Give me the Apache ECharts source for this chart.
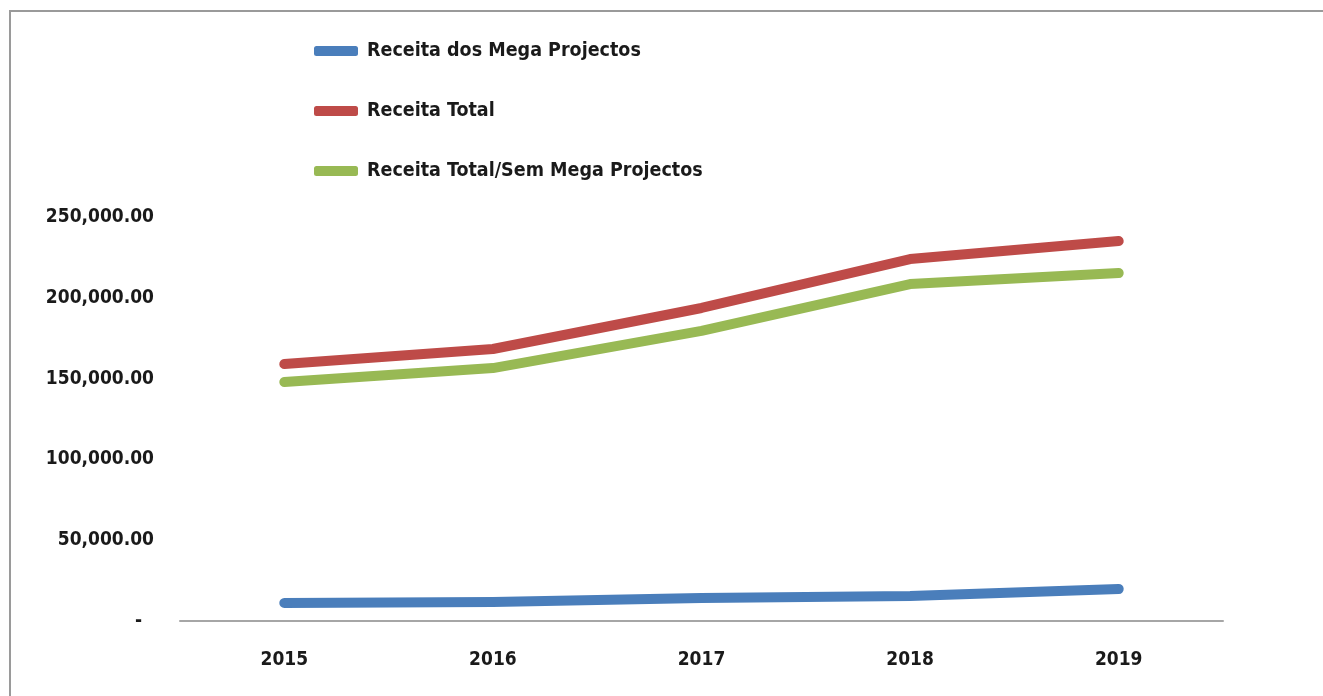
<!DOCTYPE html>
<html>
<head>
<meta charset="utf-8">
<script src="https://cdn.jsdelivr.net/npm/echarts@6/dist/echarts.min.js"></script>
<style>
  html, body { margin: 0; padding: 0; background: #fff; }
  #chart { width: 1323px; height: 696px; }
</style>
</head>
<body>
<div id="chart"></div>
<script>
// anos
const years = ['2015', '2016', '2017', '2018', '2019'];
// valores
const megaProjectos = [11100, 11800, 14200, 15500, 19800];
const receitaTotal = [159000, 168300, 193700, 224000, 235100];
const semMegaProjectos = [147900, 156500, 179500, 208500, 215300];
const seriesNames = ['Receita dos Mega Projectos', 'Receita Total', 'Receita Total/Sem Mega Projectos'];
const colors = ['#4a7ebb', '#be4b48', '#98b954'];

const fontFamily = '"Liberation Sans Narrow", "DejaVu Sans Condensed", "Liberation Sans", sans-serif';

const chart = echarts.init(document.getElementById('chart'));

const makeSeries = (name, data, color) => ({
  name: name,
  type: 'line',
  data: data,
  symbol: 'none',
  smooth: false,
  lineStyle: { width: 10, color: color, cap: 'round', join: 'round' },
  itemStyle: { color: color },
  emphasis: { disabled: true }
});

chart.setOption({
  animation: false,
  color: colors,
  graphic: [{
    type: 'polyline',
    shape: { points: [[10, 696], [10, 11], [1323, 11]] },
    style: { stroke: '#9a9a9a', lineWidth: 2, fill: null }
  }],
  legend: {
    orient: 'vertical',
    left: 309,
    top: 36,
    itemWidth: 44,
    itemHeight: 10,
    itemGap: 40,
    icon: 'roundRect',
    data: seriesNames,
    textStyle: {
      fontFamily: fontFamily,
      fontSize: 19.5,
      fontWeight: 'bold',
      color: '#1a1a1a',
      padding: [0, 0, 0, 4]
    }
  },
  grid: { left: 180, right: 100, top: 217, bottom: 75 },
  xAxis: {
    type: 'category',
    data: years,
    boundaryGap: true,
    axisLine: { lineStyle: { color: '#a6a6a6', width: 2 } },
    axisTick: { show: false },
    axisLabel: {
      margin: 30,
      fontFamily: fontFamily,
      fontSize: 19,
      fontWeight: 'bold',
      color: '#1a1a1a'
    }
  },
  yAxis: {
    type: 'value',
    min: 0,
    max: 250000,
    interval: 50000,
    splitLine: { show: false },
    axisLine: { show: false },
    axisTick: { show: false },
    axisLabel: {
      margin: 26,
      fontFamily: fontFamily,
      fontSize: 19,
      fontWeight: 'bold',
      color: '#1a1a1a',
      formatter: (v) => v === 0 ? '-  ' : v.toLocaleString('en-US', { minimumFractionDigits: 2, maximumFractionDigits: 2 })
    }
  },
  series: [
    makeSeries(seriesNames[0], megaProjectos, colors[0]),
    makeSeries(seriesNames[1], receitaTotal, colors[1]),
    makeSeries(seriesNames[2], semMegaProjectos, colors[2])
  ]
});
</script>
</body>
</html>
